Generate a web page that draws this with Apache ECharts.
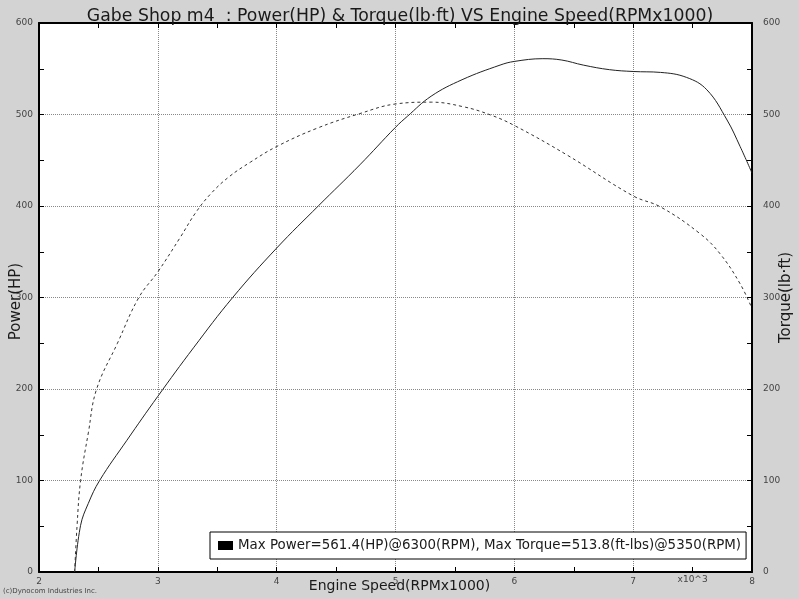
<!DOCTYPE html>
<html>
<head>
<meta charset="utf-8">
<script src="https://cdn.jsdelivr.net/npm/echarts@6/dist/echarts.min.js"></script>
<style>
html,body{margin:0;padding:0;background:#d3d3d3;}
#c{width:799px;height:599px;}
</style>
</head>
<body>
<div id="c"></div>
<script>
const titleText = 'Gabe Shop m4  : Power(HP) & Torque(lb\u00b7ft) VS Engine Speed(RPMx1000)';
const legendText = 'Max Power=561.4(HP)@6300(RPM), Max Torque=513.8(ft-lbs)@5350(RPM)';
const xTickLabels = ['2','3','4','5','6','7','8'];
const yTickLabels = ['0','100','200','300','400','500','600'];

const powerRpm = [2.30,2.35,2.415,2.51,2.74,3.00,3.30,3.63,4.00,4.35,4.70,5.00,5.10,5.30,5.56,5.88,6.00,6.24,6.40,6.58,6.80,7.00,7.23,7.45,7.62,7.79,7.90,8.00];
const powerHp  = [0,51,75,100,144,192,245,300,354,400,445,486,498,520,538,554,558,561,559.5,554,549,547,546,540.5,527,494,465,436];

const torqueRpm  = [2.30,2.32,2.35,2.415,2.485,2.66,2.84,3.00,3.19,3.32,3.45,3.60,3.78,4.00,4.34,4.70,5.00,5.30,5.57,5.80,6.00,6.44,7.00,7.23,7.56,7.73,7.90,8.00];
const torqueLbft = [0,50,100,152,200,250,300,328,366,393,414,432,448,465,485,501,511.5,513.5,508.5,499.5,488,456,411,399,370,348,315,288];

const powerData = powerRpm.map((x,i)=>[x,powerHp[i]]);
const torqueData = torqueRpm.map((x,i)=>[x,torqueLbft[i]]);

const FONT = 'DejaVu Sans';
const chart = echarts.init(document.getElementById('c'), null, {renderer:'canvas'});

const axisLineStyle = {color:'#000', width:2};
const tickCommon = {show:true, inside:true, length:5, lineStyle:{color:'#000', width:1}};
const minorCommon = {show:true, splitNumber:2, length:5, lineStyle:{color:'#000', width:1}};

chart.setOption({
  backgroundColor:'#d3d3d3',
  animation:false,
  title:{
    text:titleText, left:395, top:3, textAlign:'center',
    textStyle:{fontFamily:FONT, fontSize:17.3, fontWeight:'normal', color:'#1a1a1a'}
  },
  legend:{
    data:[{name:'Power', icon:'rect'}],
    formatter:()=>legendText,
    left:210, top:532,
    padding:[7,5,7,8],
    itemWidth:15, itemHeight:9,
    borderColor:'#000', borderWidth:1,
    backgroundColor:'#fff',
    textStyle:{fontFamily:FONT, fontSize:13.4, color:'#1a1a1a'}
  },
  grid:{left:39, right:47, top:23, bottom:27, containLabel:false, outerBoundsMode:'none',
        show:true, backgroundColor:'#fff', borderWidth:0},
  xAxis:[{
    type:'value', min:2, max:8, interval:1, position:'bottom',
    name:'Engine Speed(RPMx1000)', nameLocation:'middle', nameGap:7, nameMoveOverlap:false,
    nameTextStyle:{fontFamily:FONT, fontSize:14, color:'#1a1a1a', verticalAlign:'top', padding:[0,0,0,8]},
    axisLine:{show:true, onZero:false, lineStyle:axisLineStyle},
    axisTick:tickCommon, minorTick:minorCommon,
    axisLabel:{fontFamily:FONT, fontSize:9, color:'#444', margin:5,
      formatter:(v)=>xTickLabels[Math.round(v-2)]},
    splitLine:{show:true, lineStyle:{color:'#888', type:'dotted', width:1}}
  },{
    type:'value', min:2, max:8, interval:1, position:'top',
    axisLine:{show:true, onZero:false, lineStyle:axisLineStyle},
    axisTick:tickCommon, minorTick:minorCommon,
    axisLabel:{show:false}, splitLine:{show:false}
  }],
  yAxis:[{
    type:'value', min:0, max:600, interval:100, position:'left',
    name:'Power(HP)', nameLocation:'middle', nameGap:15, nameMoveOverlap:false,
    nameTextStyle:{fontFamily:FONT, fontSize:15, color:'#1a1a1a', padding:[0,8,0,0]},
    axisLine:{show:true, onZero:false, lineStyle:axisLineStyle},
    axisTick:tickCommon, minorTick:minorCommon,
    axisLabel:{fontFamily:FONT, fontSize:9, color:'#444', margin:6,
      formatter:(v)=>yTickLabels[Math.round(v/100)]},
    splitLine:{show:true, lineStyle:{color:'#888', type:'dotted', width:1}}
  },{
    type:'value', min:0, max:600, interval:100, position:'right',
    name:'Torque(lb\u00b7ft)', nameLocation:'middle', nameGap:27, nameMoveOverlap:false,
    nameTextStyle:{fontFamily:FONT, fontSize:15, color:'#1a1a1a'},
    axisLine:{show:true, onZero:false, lineStyle:axisLineStyle},
    axisTick:tickCommon, minorTick:minorCommon,
    axisLabel:{fontFamily:FONT, fontSize:9, color:'#444', margin:11,
      formatter:(v)=>yTickLabels[Math.round(v/100)]},
    splitLine:{show:false}
  }],
  series:[{
    name:'Power', type:'line', xAxisIndex:0, yAxisIndex:0,
    data:powerData, smooth:0.4, showSymbol:false, symbol:'none',
    itemStyle:{color:'#000'},
    lineStyle:{color:'#222', width:1}
  },{
    name:'Torque', type:'line', xAxisIndex:0, yAxisIndex:1,
    data:torqueData, smooth:0.4, showSymbol:false, symbol:'none',
    itemStyle:{color:'#000'},
    lineStyle:{color:'#333', width:1, type:[3,3]}
  }]
});

const p = chart.convertToPixel({xAxisIndex:0}, 7.5);
chart.setOption({
  graphic:[{
    type:'text', left:p-15, top:575,
    style:{text:'x10^3', font:'9px "DejaVu Sans"', fill:'#444'}
  },{
    type:'text', left:3, top:588,
    style:{text:'(c)Dynocom Industries Inc.', font:'7px "DejaVu Sans"', fill:'#444'}
  }]
});
</script>
</body>
</html>
